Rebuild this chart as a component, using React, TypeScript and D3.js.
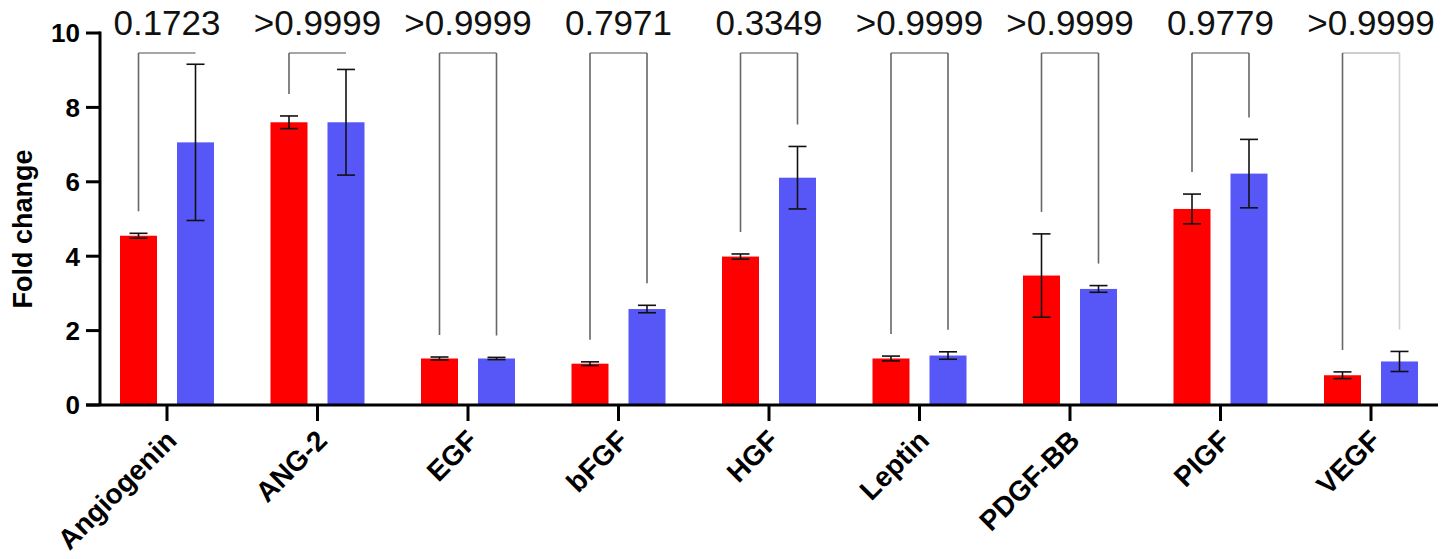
import React from "react";
import * as d3 from "d3";

const categories = ["Angiogenin", "ANG-2", "EGF", "bFGF", "HGF", "Leptin", "PDGF-BB", "PIGF", "VEGF"];
const redMeans = [4.55, 7.6, 1.25, 1.11, 3.99, 1.25, 3.48, 5.27, 0.8];
const redErr = [0.065, 0.17, 0.04, 0.05, 0.07, 0.065, 1.12, 0.4, 0.09];
const blueMeans = [7.06, 7.6, 1.25, 2.58, 6.11, 1.33, 3.12, 6.22, 1.17];
const blueErr = [2.1, 1.42, 0.03, 0.1, 0.84, 0.1, 0.09, 0.92, 0.27];
const pValues = ["0.1723", ">0.9999", ">0.9999", "0.7971", "0.3349", ">0.9999", ">0.9999", "0.9779", ">0.9999"];
const yTicks = [0, 2, 4, 6, 8, 10];

const W = 1456;
const H = 559;
const RED = "#ff0000";
const BLUE = "#5757f8";
const FONT = "'Liberation Sans', Arial, sans-serif";

export default function App() {
  const x = d3.scalePoint<string>().domain(categories).range([167, 1371]);
  const y = d3.scaleLinear().domain([0, 10]).range([405, 33]);
  const barW = 37;
  const off = 28.5;
  const capW = 18;
  const bracketTop = 53;
  const gap = 22;

  const series = [
    { means: redMeans, errs: redErr, color: RED, dx: -off },
    { means: blueMeans, errs: blueErr, color: BLUE, dx: off },
  ];

  return (
    <svg width={W} height={H} style={{ position: "absolute", left: 0, top: 0, background: "#fff" }}>
      {/* bars */}
      {series.map((s, si) =>
        categories.map((c, i) => {
          const cx = (x(c) as number) + s.dx;
          return (
            <rect
              key={`b${si}-${i}`}
              x={cx - barW / 2}
              y={y(s.means[i])}
              width={barW}
              height={y(0) - y(s.means[i])}
              fill={s.color}
            />
          );
        })
      )}
      {/* error bars */}
      {series.map((s, si) =>
        categories.map((c, i) => {
          const cx = (x(c) as number) + s.dx;
          const hi = y(s.means[i] + s.errs[i]);
          const lo = y(s.means[i] - s.errs[i]);
          return (
            <g key={`e${si}-${i}`} stroke="#111" strokeWidth={1.6}>
              <line x1={cx} x2={cx} y1={hi} y2={lo} />
              <line x1={cx - capW / 2} x2={cx + capW / 2} y1={hi} y2={hi} />
              <line x1={cx - capW / 2} x2={cx + capW / 2} y1={lo} y2={lo} />
            </g>
          );
        })
      )}
      {/* brackets */}
      {categories.map((c, i) => {
        const xl = (x(c) as number) - off;
        const xr = (x(c) as number) + off;
        const lb = y(redMeans[i] + redErr[i]) - gap;
        const rb = y(blueMeans[i] + blueErr[i]) - gap;
        const light = i === categories.length - 1;
        return (
          <g key={`br${i}`} stroke="#666" strokeWidth={1.6} fill="none">
            <line x1={xl} x2={xr} y1={bracketTop} y2={bracketTop} stroke={light ? "#bdbdbd" : "#888"} />
            {lb > bracketTop && <line x1={xl} x2={xl} y1={bracketTop} y2={lb} />}
            {rb > bracketTop && (
              <line x1={xr} x2={xr} y1={bracketTop} y2={rb} stroke={light ? "#d0d0d0" : "#666"} />
            )}
          </g>
        );
      })}
      {/* p-values */}
      {categories.map((c, i) => (
        <text
          key={`p${i}`}
          x={x(c) as number}
          y={35}
          textAnchor="middle"
          fontFamily={FONT}
          fontSize={35}
          fill="#111"
        >
          {pValues[i]}
        </text>
      ))}
      {/* y axis */}
      <line x1={100} x2={100} y1={y(10) - 1.5} y2={y(0)} stroke="#000" strokeWidth={3} />
      {yTicks.map((t) => (
        <g key={`yt${t}`}>
          <line x1={86} x2={100} y1={y(t)} y2={y(t)} stroke="#000" strokeWidth={3} />
          <text
            x={80}
            y={y(t)}
            dy="0.36em"
            textAnchor="end"
            fontFamily={FONT}
            fontWeight="bold"
            fontSize={26}
            fill="#000"
          >
            {t}
          </text>
        </g>
      ))}
      <text
        transform={`translate(32, ${(y(0) + y(10)) / 2 + 10}) rotate(-90)`}
        textAnchor="middle"
        fontFamily={FONT}
        fontWeight="bold"
        fontSize={27}
        fill="#000"
      >
        Fold change
      </text>
      {/* x axis */}
      <line x1={86} x2={1438} y1={y(0)} y2={y(0)} stroke="#000" strokeWidth={3} />
      {categories.map((c) => {
        const cx = x(c) as number;
        return (
          <g key={`xt${c}`}>
            <line x1={cx} x2={cx} y1={y(0)} y2={y(0) + 16} stroke="#000" strokeWidth={3} />
            <text
              transform={`translate(${cx - 3}, 428) rotate(-45)`}
              textAnchor="end"
              dy="0.72em"
              fontFamily={FONT}
              fontWeight="bold"
              fontSize={28}
              fill="#000"
            >
              {c}
            </text>
          </g>
        );
      })}
    </svg>
  );
}
